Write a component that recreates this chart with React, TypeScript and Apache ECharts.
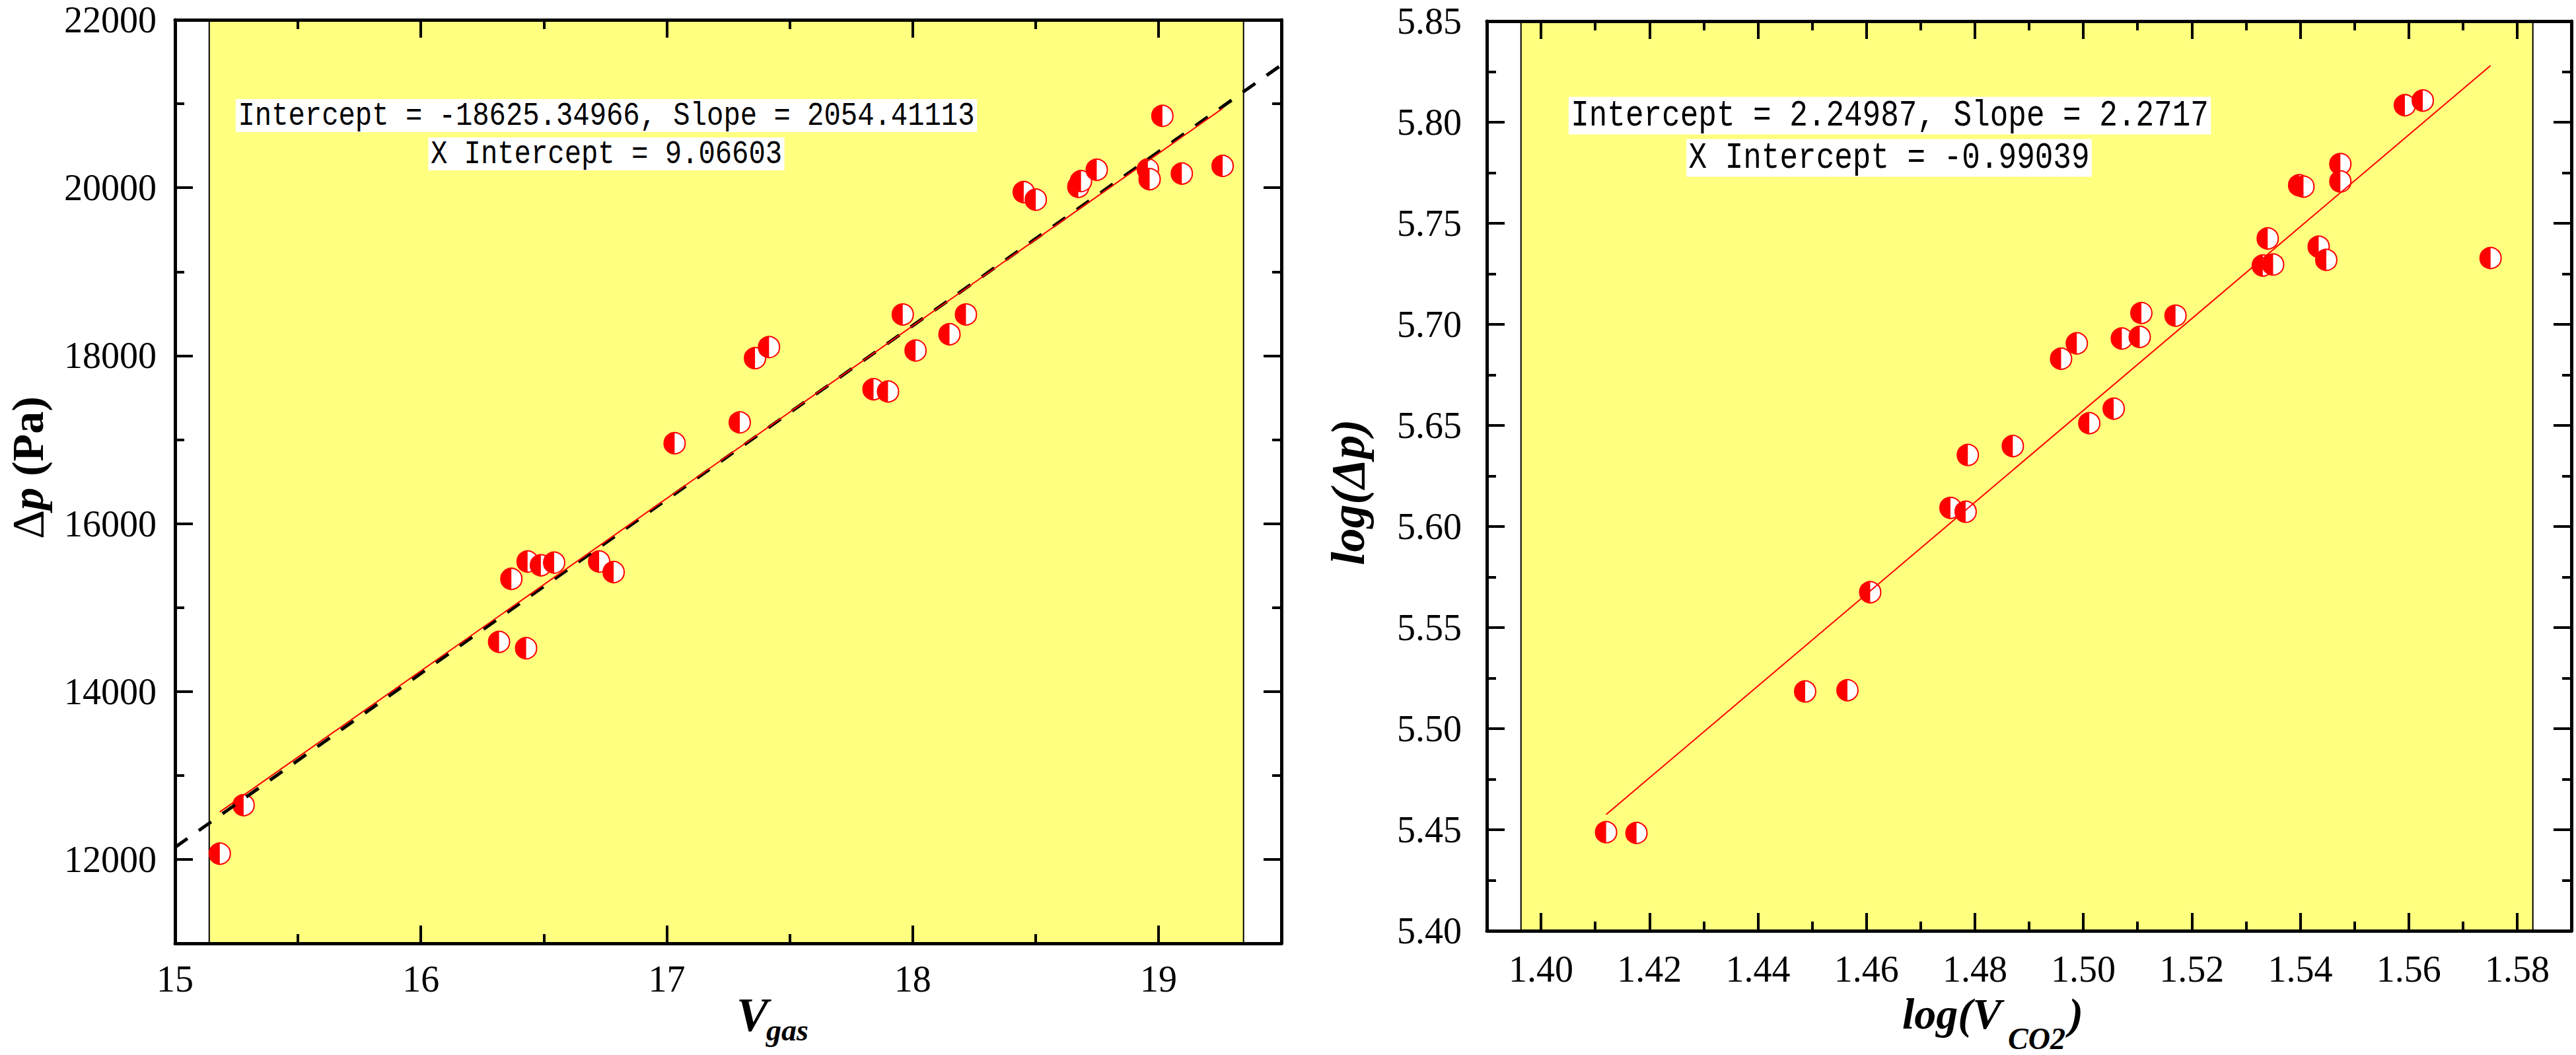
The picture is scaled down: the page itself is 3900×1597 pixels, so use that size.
import React, { useEffect, useRef } from 'react';
import * as echarts from 'echarts';

// ---------- data ----------
const vgas = [15.182, 15.279, 16.318, 16.368, 16.428, 16.434, 16.488, 16.542, 16.725, 16.784, 17.032, 17.297, 17.359, 17.416, 17.841, 17.9, 17.96, 18.012, 18.15, 18.217, 18.452, 18.501, 18.674, 18.685, 18.749, 18.957, 18.964, 19.016, 19.095, 19.261];
const dp = [12068, 12646, 14591, 15341, 14515, 15548, 15503, 15535, 15548, 15422, 16957, 17205, 17970, 18102, 17600, 17573, 18490, 18061, 18255, 18490, 19948, 19858, 20011, 20079, 20214, 20219, 20102, 20856, 20169, 20260];

const logV = [1.412, 1.4176, 1.4487, 1.4565, 1.4607, 1.4755, 1.4783, 1.4787, 1.487, 1.4959, 1.4988, 1.5011, 1.5056, 1.5071, 1.5104, 1.5107, 1.517, 1.5331, 1.534, 1.535, 1.5398, 1.5406, 1.5434, 1.5448, 1.5474, 1.5474, 1.5593, 1.5626, 1.5751];
const logDp = [5.4488, 5.4484, 5.5184, 5.519, 5.5675, 5.6092, 5.6073, 5.6354, 5.6398, 5.683, 5.6906, 5.6511, 5.6583, 5.693, 5.6938, 5.7056, 5.7043, 5.7291, 5.7425, 5.7296, 5.7688, 5.7681, 5.7384, 5.7319, 5.7793, 5.7707, 5.8084, 5.8107, 5.7328];

// fit parameters (from the annotations)
const leftFit = { intercept: -18625.34966, slope: 2054.41113, xIntercept: 9.06603 };
const rightFit = { intercept: 2.24987, slope: 2.2717, xIntercept: -0.99039 };
// dashed reference line in the left panel
const leftDashed = { intercept: -18918, slope: 2070.8 };

// axis ranges & tick labels
const leftXRange = [15, 19.5];
const leftYRange = [11000, 22000];
const rightXRange = [1.39, 1.59];
const rightYRange = [5.4, 5.85];
const leftXTicks = [15, 16, 17, 18, 19];
const leftYTicks = [12000, 14000, 16000, 18000, 20000, 22000];
const rightXTicks = [1.4, 1.42, 1.44, 1.46, 1.48, 1.5, 1.52, 1.54, 1.56, 1.58];
const rightYTicks = [5.4, 5.45, 5.5, 5.55, 5.6, 5.65, 5.7, 5.75, 5.8, 5.85];
const leftXMinor = 0.5;
const leftYMinor = 1000;
const rightXMinor = 0.01;
const rightYMinor = 0.025;

// shaded (yellow) x ranges
const leftBand = [15.139, 19.346];
const rightBand = [1.3963, 1.5829];

const SERIF = '"Liberation Serif", "Times New Roman", serif';
const MONO = '"Liberation Mono", "Courier New", monospace';
const RED = '#ff0000';

function fmt(ticks: number[], dec: number) {
  return (v: number) => (ticks.some((t) => Math.abs(t - v) < 1e-7) ? v.toFixed(dec) : '');
}

function axisA(gridIndex: number, position: string, range: number[], interval: number, labels: any) {
  return {
    type: 'value',
    gridIndex,
    position,
    min: range[0],
    max: range[1],
    interval,
    z: 10,
    axisLine: { show: true, onZero: false, lineStyle: { color: '#000', width: 5 } },
    axisTick: { show: true, inside: true, length: 14, lineStyle: { color: '#000', width: 4 } },
    minorTick: { show: false },
    splitLine: { show: false },
    axisLabel: labels
      ? {
          show: true,
          margin: labels.margin,
          fontFamily: SERIF,
          fontSize: 56,
          color: '#000',
          formatter: labels.formatter,
          showMinLabel: true,
          showMaxLabel: true,
        }
      : { show: false },
  };
}

function axisB(gridIndex: number, position: string, range: number[], majors: number[]) {
  return {
    type: 'value',
    gridIndex,
    position,
    min: range[0],
    max: range[1],
    z: 10,
    axisLine: { show: false, onZero: false },
    axisTick: { show: true, inside: true, length: 27, customValues: majors, lineStyle: { color: '#000', width: 4 } },
    minorTick: { show: false },
    splitLine: { show: false },
    axisLabel: { show: false },
  };
}

function halfCircle(params: any, api: any) {
  const p = api.coord([api.value(0), api.value(1)]);
  const r = 16;
  return {
    type: 'group',
    children: [
      { type: 'circle', shape: { cx: p[0], cy: p[1], r }, style: { fill: '#ffffff', stroke: RED, lineWidth: 2 } },
      {
        type: 'sector',
        shape: { cx: p[0], cy: p[1], r0: 0, r, startAngle: Math.PI / 2, endAngle: (Math.PI * 3) / 2, clockwise: true },
        style: { fill: RED },
      },
    ],
  };
}

function text(x: number, y: number, str: string, font: any, extra: any = {}) {
  return {
    type: 'text',
    x,
    y,
    rotation: extra.rotation || 0,
    scaleX: extra.scaleX || 1,
    z: 20,
    style: {
      text: str,
      fill: '#000',
      align: extra.align || 'center',
      verticalAlign: 'middle',
      textAlign: extra.align || 'center',
      textVerticalAlign: 'middle',
      ...font,
      ...(extra.style || {}),
    },
  };
}

export default function App() {
  const ref = useRef<HTMLDivElement>(null);

  useEffect(() => {
    document.body.style.margin = '0';
    if (!ref.current) return;
    const chart = echarts.init(ref.current, null, { renderer: 'svg' });

    const leftPts = vgas.map((x, i) => [x, dp[i]]);
    const rightPts = logV.map((x, i) => [x, logDp[i]]);
    const lxMin = Math.min(...vgas);
    const lxMax = Math.max(...vgas);
    const rxMin = Math.min(...logV);
    const rxMax = Math.max(...logV);

    const annoBox = (pad: number) => ({ style: { backgroundColor: '#fff', padding: [pad, 4] } });

    const option: any = {
      animation: false,
      backgroundColor: '#ffffff',
      grid: [
        { left: 265, top: 30, width: 1675, height: 1398, containLabel: false, outerBoundsMode: 'none' },
        { left: 2251, top: 32, width: 1642, height: 1377, containLabel: false, outerBoundsMode: 'none' },
      ],
      xAxis: [
        axisA(0, 'bottom', leftXRange, leftXMinor, { margin: 26, formatter: fmt(leftXTicks, 0) }),
        axisB(0, 'bottom', leftXRange, leftXTicks),
        axisA(0, 'top', leftXRange, leftXMinor, null),
        axisB(0, 'top', leftXRange, leftXTicks),
        axisA(1, 'bottom', rightXRange, rightXMinor, { margin: 30, formatter: fmt(rightXTicks, 2) }),
        axisB(1, 'bottom', rightXRange, rightXTicks),
        axisA(1, 'top', rightXRange, rightXMinor, null),
        axisB(1, 'top', rightXRange, rightXTicks),
      ],
      yAxis: [
        axisA(0, 'left', leftYRange, leftYMinor, { margin: 28, formatter: fmt(leftYTicks, 0) }),
        axisB(0, 'left', leftYRange, leftYTicks),
        axisA(0, 'right', leftYRange, leftYMinor, null),
        axisB(0, 'right', leftYRange, leftYTicks),
        axisA(1, 'left', rightYRange, rightYMinor, { margin: 38, formatter: fmt(rightYTicks, 2) }),
        axisB(1, 'left', rightYRange, rightYTicks),
        axisA(1, 'right', rightYRange, rightYMinor, null),
        axisB(1, 'right', rightYRange, rightYTicks),
      ],
      series: [
        // ---- left panel ----
        {
          type: 'line',
          xAxisIndex: 0,
          yAxisIndex: 0,
          data: [[leftXRange[0], leftYRange[0]]],
          symbol: 'none',
          lineStyle: { opacity: 0 },
          silent: true,
          z: 1,
          markArea: {
            silent: true,
            itemStyle: { color: '#ffff80', borderColor: '#000', borderWidth: 2 },
            data: [[{ xAxis: leftBand[0], yAxis: leftYRange[0] }, { xAxis: leftBand[1], yAxis: leftYRange[1] }]],
          },
        },
        {
          type: 'custom',
          xAxisIndex: 0,
          yAxisIndex: 0,
          data: leftPts,
          encode: { x: 0, y: 1 },
          renderItem: halfCircle,
          z: 2,
        },
        {
          type: 'line',
          xAxisIndex: 0,
          yAxisIndex: 0,
          data: leftXRange.map((x) => [x, leftDashed.intercept + leftDashed.slope * x]),
          symbol: 'none',
          lineStyle: { color: '#000', width: 5, type: [23, 21] },
          z: 3,
        },
        {
          type: 'line',
          xAxisIndex: 0,
          yAxisIndex: 0,
          data: [lxMin, lxMax].map((x) => [x, leftFit.intercept + leftFit.slope * x]),
          symbol: 'none',
          lineStyle: { color: RED, width: 2 },
          z: 4,
        },
        // ---- right panel ----
        {
          type: 'line',
          xAxisIndex: 4,
          yAxisIndex: 4,
          data: [[rightXRange[0], rightYRange[0]]],
          symbol: 'none',
          lineStyle: { opacity: 0 },
          silent: true,
          z: 1,
          markArea: {
            silent: true,
            itemStyle: { color: '#ffff80', borderColor: '#000', borderWidth: 2 },
            data: [[{ xAxis: rightBand[0], yAxis: rightYRange[0] }, { xAxis: rightBand[1], yAxis: rightYRange[1] }]],
          },
        },
        {
          type: 'custom',
          xAxisIndex: 4,
          yAxisIndex: 4,
          data: rightPts,
          encode: { x: 0, y: 1 },
          renderItem: halfCircle,
          z: 2,
        },
        {
          type: 'line',
          xAxisIndex: 4,
          yAxisIndex: 4,
          data: [rxMin, rxMax].map((x) => [x, rightFit.intercept + rightFit.slope * x]),
          symbol: 'none',
          lineStyle: { color: RED, width: 2 },
          z: 4,
        },
      ],
      graphic: [
        // annotations (narrow monospace, like the original half-width font)
        text(918, 175, `Intercept = ${leftFit.intercept.toFixed(5)}, Slope = ${leftFit.slope.toFixed(5)}`, { fontFamily: MONO, fontSize: 50 }, { scaleX: 0.845, ...annoBox(0) }),
        text(918, 233, `X Intercept = ${leftFit.xIntercept.toFixed(5)}`, { fontFamily: MONO, fontSize: 50 }, { scaleX: 0.845, ...annoBox(0) }),
        text(2861, 175, `Intercept = ${rightFit.intercept.toFixed(5)}, Slope = ${rightFit.slope.toFixed(4)}`, { fontFamily: MONO, fontSize: 55 }, { scaleX: 0.836, ...annoBox(1) }),
        text(2860, 239, `X Intercept = ${rightFit.xIntercept.toFixed(5)}`, { fontFamily: MONO, fontSize: 55 }, { scaleX: 0.836, ...annoBox(1) }),
        // y titles
        {
          type: 'text',
          x: 42,
          y: 708,
          rotation: Math.PI / 2,
          z: 20,
          style: {
            text: '{d|Δ}{p|p}{b| (Pa)}',
            align: 'center',
            verticalAlign: 'middle',
            textAlign: 'center',
            textVerticalAlign: 'middle',
            fill: '#000',
            fontFamily: SERIF,
            fontSize: 68,
            rich: {
              d: { fontFamily: SERIF, fontSize: 68, fontWeight: 'normal', fill: '#000' },
              p: { fontFamily: SERIF, fontSize: 68, fontWeight: 'bold', fontStyle: 'italic', fill: '#000' },
              b: { fontFamily: SERIF, fontSize: 68, fontWeight: 'bold', fill: '#000' },
            },
          },
        },
        text(2041, 745, 'log(Δp)', { fontFamily: SERIF, fontSize: 72, fontWeight: 'bold', fontStyle: 'italic' }, { rotation: Math.PI / 2 }),
        // x titles
        text(1115, 1536, 'V', { fontFamily: SERIF, fontSize: 72, fontWeight: 'bold', fontStyle: 'italic' }, { align: 'left' }),
        text(1160, 1559, 'gas', { fontFamily: SERIF, fontSize: 46, fontWeight: 'bold', fontStyle: 'italic' }, { align: 'left' }),
        text(2880, 1534, 'log(V', { fontFamily: SERIF, fontSize: 66, fontWeight: 'bold', fontStyle: 'italic' }, { align: 'left' }),
        text(3040, 1572, 'CO2', { fontFamily: SERIF, fontSize: 46, fontWeight: 'bold', fontStyle: 'italic' }, { align: 'left' }),
        text(3132, 1534, ')', { fontFamily: SERIF, fontSize: 66, fontWeight: 'bold', fontStyle: 'italic' }, { align: 'left' }),
      ],
    };

    chart.setOption(option);
    return () => chart.dispose();
  }, []);

  return <div ref={ref} style={{ width: 3900, height: 1597, background: '#fff' }} />;
}
